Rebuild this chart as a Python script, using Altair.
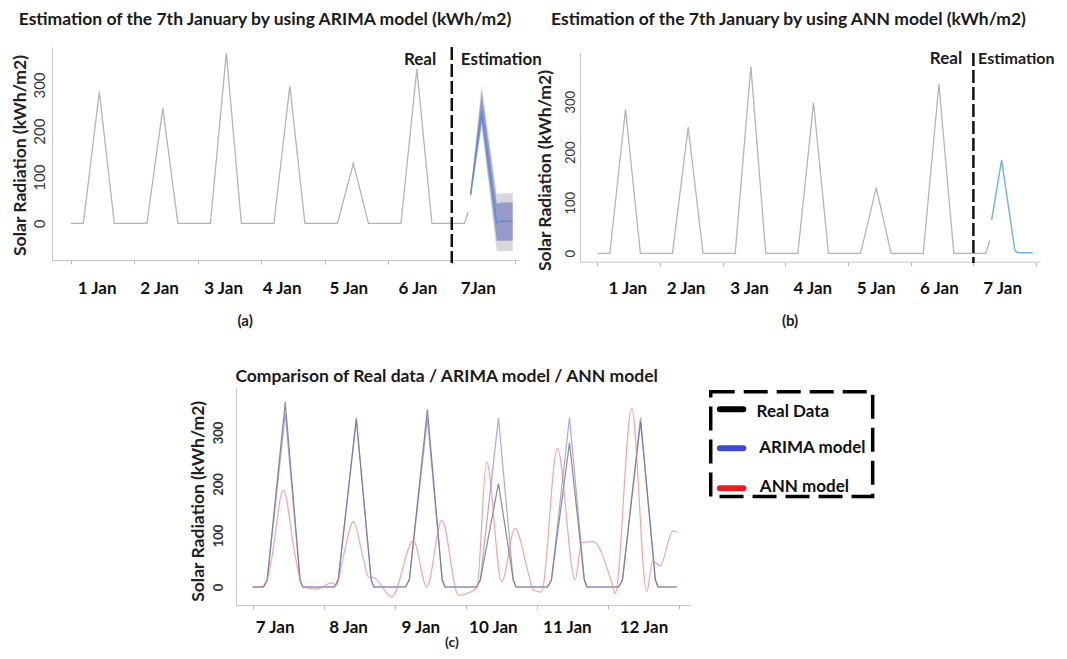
import altair as alt
import pandas as pd

FONT = "Lato"

# ---------------- data : panels (a) and (b) (hours since 1 Jan 00:00) ----------------
real_hours = [0, 4.8, 10.8, 16.5, 28.8, 34.8, 40.5, 52.8, 58.8, 64.5, 76.8, 82.8, 88.5,
              100.8, 106.8, 112.5, 124.8, 130.8, 136.5, 148.8, 150.2]
real_vals = [0, 0, 285, 0, 0, 250, 0, 0, 370, 0, 0, 298, 0, 0, 130, 0, 0, 335, 0, 0, 25]

arima_fc_hours = [151.1, 155.3, 161, 163, 167]
arima_fc_vals = [62, 243, 1, 5, 4]
arima_dark_lo = [56, 218, -38, -38, -38]
arima_dark_hi = [68, 285, 43, 45, 45]
arima_light_lo = [52, 208, -60, -60, -60]
arima_light_hi = [72, 300, 63, 65, 65]

ann_fc_hours = [151, 154.8, 159.9, 161, 166.7]
ann_fc_vals = [66, 185, 5, 1, 1]

tick_hours_ab = [0, 24, 48, 72, 96, 120, 144, 168]
label_hours_a = [9.8, 33.4, 57.6, 79.7, 104.9, 131.0, 153.8]
label_text_a = ["1 Jan", "2 Jan", "3 Jan", "4 Jan", "5 Jan", "6 Jan", "7Jan"]
label_hours_b = [11.5, 33.8, 58.1, 82.3, 106.6, 130.8, 155.0]
label_text_b = ["1 Jan", "2 Jan", "3 Jan", "4 Jan", "5 Jan", "6 Jan", "7 Jan"]

# ---------------- data : panel (c) (hours since 7 Jan 00:00) ----------------
c_hours = [0, 3.6, 4.9, 11, 16, 16.9,
           27.6, 28.9, 35, 40, 40.9,
           51.6, 52.9, 59, 64, 64.9,
           75.6, 76.9, 83, 88, 88.9,
           99.6, 100.9, 107, 112, 112.9,
           123.6, 124.9, 131, 136, 136.9, 143.2]
c_real = [0, 0, 14, 359, 14, 0,
          0, 14, 325, 14, 0,
          0, 14, 345, 14, 0,
          0, 14, 201, 14, 0,
          0, 14, 280, 14, 0,
          0, 14, 321, 14, 0, 0]
c_arima = [0, 0, 14, 337, 14, 0,
           0, 14, 329, 14, 0,
           0, 14, 328, 14, 0,
           0, 14, 328, 14, 0,
           0, 14, 329, 14, 0,
           0, 14, 329, 14, 0, 0]
c_ann_hours = [0, 3.6, 4.9, 6.4, 10.3, 14.4, 16.9, 21.6, 26.7, 28.3, 30.6, 34, 37.2, 39, 41.3,
               47, 54.3, 58.8, 63.9, 69.5, 75.7, 79, 84.1, 88.6, 93.1, 94.8, 97.5, 102.9,
               108.9, 111.1, 115, 121.8, 122.4, 128, 133.1, 135.1, 137.6, 141.9, 143.2]
c_ann = [0, 0, 14, 55, 188, 59, 0, -4, 8, 3, 59, 127, 59, 20, 17,
         -19, 90, 0, 130, -16, -2, 243, 10, 114, 27, -6, -10, 269,
         14, 86, 88, -2, -13, 347, -9, 51, 41, 109, 107]

tick_hours_c = [0, 24, 48, 72, 96, 120, 144]
label_hours_c = [7.4, 32.2, 56.6, 81.1, 106.1, 132.0]
label_text_c = ["7 Jan", "8 Jan", "9 Jan", "10 Jan", "11 Jan", "12 Jan"]

y_ticks = [0, 100, 200, 300]

legend_names = ["Real Data", "ARIMA model", "ANN model"]
legend_colors = ["#000000", "#3f48cc", "#ed1c24"]

titles = ["Estimation of the 7th January by using ARIMA model (kWh/m2)",
          "Estimation of the 7th January by using ANN model (kWh/m2)",
          "Comparison of Real data / ARIMA model / ANN model"]

# ---------------- scales (one set per panel) ----------------
def S(domain, rng):
    return alt.Scale(domain=domain, range=rng, nice=False, zero=False)

AX, AY = S([-7.07, 169.4], [44, 511]), S([-79.6, 382.4], [252, 39])
BX, BY = S([-6.62, 169.5], [572, 1032]), S([-16.6, 396.6], [253.7, 45])
CX, CY = S([-5.64, 147.7], [228, 682]), S([-35, 386.4], [597, 380])


def tick_axis(offset, values):
    return alt.Axis(orient="bottom", offset=offset, values=values, labels=False, ticks=True,
                    tickSize=4, tickColor="#b8b8b8", domain=True, domainColor="#c4c4c4",
                    grid=False, title=None)


def label_axis(offset, values, texts, pad):
    expr = "[" + ",".join("'%s'" % t for t in texts) + "][indexof([" + \
           ",".join(repr(v) for v in values) + "], datum.value)]"
    return alt.Axis(orient="bottom", offset=offset, values=values, labelExpr=expr,
                    ticks=False, tickSize=0, domain=False, grid=False, title=None,
                    labelPadding=pad, labelBaseline="middle", labelAlign="center",
                    labelFont=FONT, labelFontSize=17, labelFontWeight="bold",
                    labelColor="#111111", labelFlush=False, labelOverlap=False)


def y_axis(offset, pad, lsize, lweight, tx, ty):
    return alt.Axis(orient="left", offset=offset, values=y_ticks, ticks=False, tickSize=0,
                    domain=True, domainColor="#c4c4c4", grid=False, format="d",
                    labelAngle=270, labelAlign="center", labelBaseline="middle",
                    labelPadding=pad, labelFont=FONT, labelFontSize=lsize,
                    labelFontWeight=lweight, labelColor="#333333",
                    title="Solar Radiation (kWh/m2)", titleX=tx, titleY=ty, titleAngle=270,
                    titleAlign="center", titleBaseline="middle", titleFont=FONT,
                    titleFontSize=17.5, titleFontWeight="bold", titleColor="#222222")


def line(df, xs, ys, color, width, opacity=1.0, xaxis=None, yaxis=None, interp="linear"):
    return alt.Chart(df).mark_line(color=color, strokeWidth=width, opacity=opacity,
                                   interpolate=interp).encode(
        x=alt.X("h:Q", scale=xs, axis=xaxis),
        y=alt.Y("v:Q", scale=ys, axis=yaxis),
        order="i:Q")


def band(df, xs, ys, color):
    return alt.Chart(df).mark_area(color=color, opacity=1.0).encode(
        x=alt.X("h:Q", scale=xs, axis=None),
        y=alt.Y("lo:Q", scale=ys, axis=None),
        y2="hi:Q")


def texts(df, xs, ys, size, align="center", xaxis=None, color="#1a1a1a"):
    return alt.Chart(df).mark_text(font=FONT, fontSize=size, fontWeight="bold", align=align,
                                   baseline="middle", color=color).encode(
        x=alt.X("h:Q", scale=xs, axis=xaxis),
        y=alt.Y("v:Q", scale=ys, axis=None),
        text="t:N")


def vdash(df, xs, ys):
    return alt.Chart(df).mark_rule(color="#111111", strokeWidth=2.5, strokeDash=[13, 4]).encode(
        x=alt.X("h:Q", scale=xs, axis=None),
        y=alt.Y("top:Q", scale=ys, axis=None),
        y2="bot:Q")


def series(hours, vals):
    return pd.DataFrame({"h": hours, "v": vals, "i": list(range(len(hours)))})


real_df = series(real_hours, real_vals)

# ---------------- panel (a) ----------------
a_band = pd.DataFrame({"h": arima_fc_hours, "lo": arima_light_lo, "hi": arima_light_hi})
a_dark = pd.DataFrame({"h": arima_fc_hours, "lo": arima_dark_lo, "hi": arima_dark_hi})
panel_a = [
    band(a_band, AX, AY, "#d6d6dc"),
    band(a_dark, AX, AY, "#959ac8"),
    line(real_df, AX, AY, "#b4b4b4", 1.3,
         xaxis=tick_axis(252 - 643, tick_hours_ab), yaxis=y_axis(-44, 13, 15, "normal", -32, 147)),
    line(series(arima_fc_hours, arima_fc_vals), AX, AY, "#5b8ed6", 1.5),
    vdash(pd.DataFrame({"h": [144], "top": [382.4], "bot": [-86]}), AX, AY),
    texts(pd.DataFrame({"h": [73.4], "v": [441], "t": [titles[0]]}), AX, AY, 17.5,
          xaxis=label_axis(252 - 643, label_hours_a, label_text_a, 28)),
    texts(pd.DataFrame({"h": [132], "v": [354.2], "t": ["Real"]}), AX, AY, 17),
    texts(pd.DataFrame({"h": [147.4], "v": [354.2], "t": ["Estimation"]}), AX, AY, 17, align="left"),
    texts(pd.DataFrame({"h": [65.9], "v": [-212], "t": ["(a)"]}), AX, AY, 15),
]

# ---------------- panel (b) ----------------
panel_b = [
    line(real_df, BX, BY, "#b4b4b4", 1.3,
         xaxis=tick_axis(253.7 - 643, tick_hours_ab), yaxis=y_axis(-572, 10, 13, "normal", -35, 162)),
    line(series(ann_fc_hours, ann_fc_vals), BX, BY, "#6fb0e6", 1.4),
    vdash(pd.DataFrame({"h": [144], "top": [396.6], "bot": [-19.2]}), BX, BY),
    texts(pd.DataFrame({"h": [73.2], "v": [461], "t": [titles[1]]}), BX, BY, 17.5,
          xaxis=label_axis(253.7 - 643, label_hours_b, label_text_b, 27)),
    texts(pd.DataFrame({"h": [133.5], "v": [383.8], "t": ["Real"]}), BX, BY, 17),
    texts(pd.DataFrame({"h": [145.8], "v": [383.8], "t": ["Estimation"]}), BX, BY, 16, align="left"),
    texts(pd.DataFrame({"h": [73.8], "v": [-134], "t": ["(b)"]}), BX, BY, 15),
]

# ---------------- panel (c) ----------------
leg_box = pd.DataFrame({"x1": [154.7], "x2": [209.4], "y1": [379.2], "y2": [175.5]})
leg_sym = pd.DataFrame({"x1": [157.8] * 3, "x2": [165.7] * 3, "y": [345, 269.3, 191.7],
                        "name": legend_names})
leg_txt = pd.DataFrame({"h": [170.2, 171.1, 171.3], "v": [340.4, 270, 194], "t": legend_names})

panel_c = [
    line(series(c_hours, c_real), CX, CY, "#8c8c8c", 1.2,
         xaxis=tick_axis(597 - 643, tick_hours_c), yaxis=y_axis(-228, 18, 13, "bold", -37.7, 492.8)),
    line(series(c_hours, c_arima), CX, CY, "#6a6ae0", 1.2, opacity=0.6),
    line(series(c_ann_hours, c_ann), CX, CY, "#f08080", 1.2, opacity=0.7, interp="monotone"),
    texts(pd.DataFrame({"h": [65.5], "v": [408.3], "t": [titles[2]]}), CX, CY, 17.5,
          xaxis=label_axis(597 - 643, label_hours_c, label_text_c, 22)),
    texts(pd.DataFrame({"h": [67.3], "v": [-108.7], "t": ["(c)"]}), CX, CY, 14),
    alt.Chart(leg_box).mark_rect(fillOpacity=0, stroke="#000000", strokeWidth=3.5,
                                 strokeDash=[24, 9]).encode(
        x=alt.X("x1:Q", scale=CX, axis=None), x2="x2:Q",
        y=alt.Y("y1:Q", scale=CY, axis=None), y2="y2:Q"),
    alt.Chart(leg_sym).mark_rule(strokeWidth=6, strokeCap="round").encode(
        x=alt.X("x1:Q", scale=CX, axis=None), x2="x2:Q",
        y=alt.Y("y:Q", scale=CY, axis=None),
        color=alt.Color("name:N", scale=alt.Scale(domain=legend_names, range=legend_colors),
                        legend=None)),
    texts(leg_txt, CX, CY, 17, align="left", color="#111111"),
]

chart = alt.layer(*(panel_a + panel_b + panel_c)).resolve_scale(
    x="independent", y="independent"
).resolve_axis(
    x="independent", y="independent"
).properties(
    width=1051, height=643, padding=0,
    autosize=alt.AutoSizeParams(type="none"),
    background="#ffffff",
).configure_view(strokeWidth=0)

chart.save("out.html", embed_options={"renderer": "svg", "actions": False})
